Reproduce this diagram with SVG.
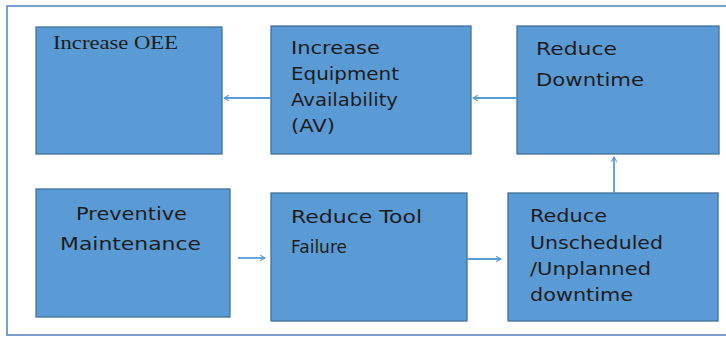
<svg xmlns="http://www.w3.org/2000/svg" width="726" height="337" viewBox="0 0 726 337">
<style>
.box{fill:#5b9bd5;stroke:#41719c;stroke-width:1.3}
.t{font-family:"DejaVu Sans","Liberation Sans",sans-serif;font-size:18px;fill:#1c1c1c}
.s{font-family:"Liberation Serif","DejaVu Serif",serif;font-size:18px;fill:#1c1c1c}
.c{fill:none;stroke:#5b9bd5;stroke-width:1.8}
</style>
<defs>
<marker id="ah" viewBox="0 0 10 10" refX="9" refY="5" markerWidth="7" markerHeight="7" markerUnits="userSpaceOnUse" orient="auto">
<polyline points="2,1 9,5 2,9" fill="none" stroke="#5b9bd5" stroke-width="1.5"/>
</marker>
</defs>
<rect x="0" y="0" width="726" height="337" fill="#ffffff"/>
<rect x="7" y="6" width="730" height="329" fill="none" stroke="#4f81bd" stroke-width="1.5"/>
<g id="n-oee">
<rect class="box" x="36" y="27" width="186" height="127"/>
<text class="s" x="53" y="49" textLength="125" lengthAdjust="spacingAndGlyphs">Increase OEE</text>
</g>
<g id="n-av">
<rect class="box" x="271" y="26" width="200" height="128"/>
<text class="t" x="291" y="54" textLength="89" lengthAdjust="spacingAndGlyphs">Increase</text>
<text class="t" x="291" y="80" textLength="108" lengthAdjust="spacingAndGlyphs">Equipment</text>
<text class="t" x="291" y="106" textLength="107" lengthAdjust="spacingAndGlyphs">Availability</text>
<text class="t" x="291" y="132" textLength="44" lengthAdjust="spacingAndGlyphs">(AV)</text>
</g>
<g id="n-downtime">
<rect class="box" x="517" y="26" width="202" height="128"/>
<text class="t" x="536" y="55" textLength="81" lengthAdjust="spacingAndGlyphs">Reduce</text>
<text class="t" x="536" y="86" textLength="108" lengthAdjust="spacingAndGlyphs">Downtime</text>
</g>
<g id="n-pm">
<rect class="box" x="36" y="189" width="194" height="128"/>
<text class="t" x="76" y="220" textLength="111" lengthAdjust="spacingAndGlyphs">Preventive</text>
<text class="t" x="60" y="250" textLength="141" lengthAdjust="spacingAndGlyphs">Maintenance</text>
</g>
<g id="n-tool">
<rect class="box" x="271" y="193" width="196" height="128"/>
<text class="t" x="291" y="223" textLength="131" lengthAdjust="spacingAndGlyphs">Reduce Tool</text>
<text class="t" x="291" y="253" textLength="56" lengthAdjust="spacingAndGlyphs">Failure</text>
</g>
<g id="n-unsched">
<rect class="box" x="508" y="193" width="210" height="128"/>
<text class="t" x="530" y="222" textLength="77" lengthAdjust="spacingAndGlyphs">Reduce</text>
<text class="t" x="530" y="249" textLength="133" lengthAdjust="spacingAndGlyphs">Unscheduled</text>
<text class="t" x="530" y="275" textLength="121" lengthAdjust="spacingAndGlyphs">/Unplanned</text>
<text class="t" x="530" y="301" textLength="103" lengthAdjust="spacingAndGlyphs">downtime</text>
</g>
<g id="connectors">
<line class="c" x1="271" y1="98" x2="224" y2="98" marker-end="url(#ah)"/>
<line class="c" x1="517" y1="98" x2="473" y2="98" marker-end="url(#ah)"/>
<line class="c" x1="614" y1="193" x2="614" y2="157" marker-end="url(#ah)"/>
<line class="c" x1="238" y1="258" x2="265" y2="258" marker-end="url(#ah)"/>
<line class="c" x1="467" y1="259" x2="501" y2="259" marker-end="url(#ah)"/>
</g>
</svg>
